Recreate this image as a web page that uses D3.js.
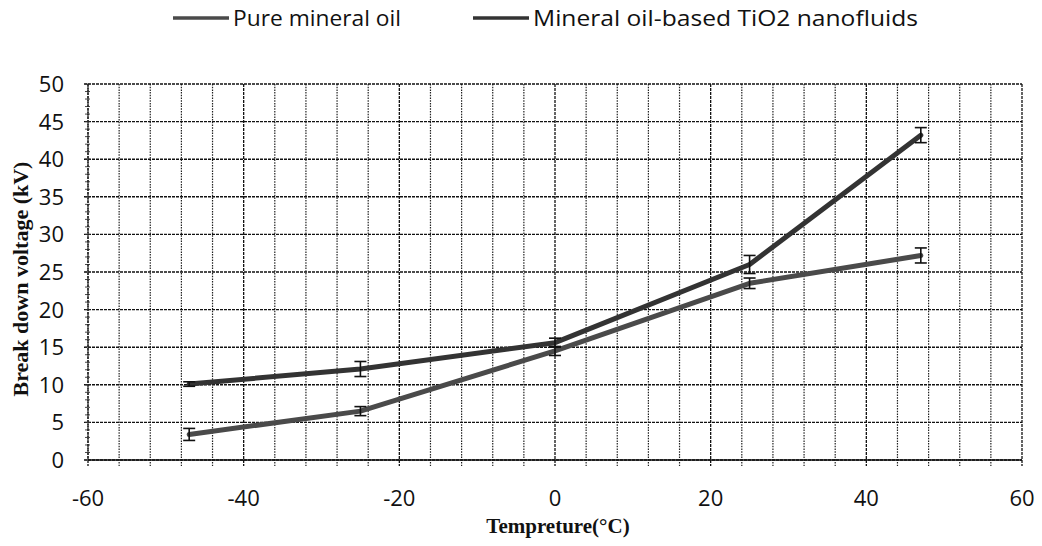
<!DOCTYPE html>
<html><head><meta charset="utf-8">
<script src="https://cdn.jsdelivr.net/npm/d3@7"></script>
<style>body{margin:0;background:#fff}svg{display:block}</style>
</head><body><svg id="c" width="1042" height="546"></svg>
<script>
const temps = [-47, -25, 0, 25, 47];
const pureOil = [3.4, 6.5, 14.5, 23.5, 27.2];
const pureErr = [0.8, 0.6, 0.6, 0.7, 1.0];
const nanoFluid = [10.1, 12.1, 15.6, 26.0, 43.2];
const nanoErr = [0.3, 1.0, 0.6, 1.2, 1.0];
const seriesNames = ["Pure mineral oil", "Mineral oil-based TiO2 nanofluids"];
const xTicks = [-60, -40, -20, 0, 20, 40, 60];
const yTicks = [0, 5, 10, 15, 20, 25, 30, 35, 40, 45, 50];

const svg = d3.select("#c");
const L = 88, R = 1022, T = 84, B = 460;
const x = d3.scaleLinear().domain([-60, 60]).range([L, R]);
const y = d3.scaleLinear().domain([0, 50]).range([B, T]);
const tickFont = "Open Sans, Liberation Sans, sans-serif";

// minor vertical gridlines (every 4)
const minorX = d3.range(-60, 61, 4).filter(v => v % 20 !== 0);
svg.append("g").selectAll("line").data(minorX).join("line")
  .attr("x1", d => x(d)).attr("x2", d => x(d)).attr("y1", T).attr("y2", B + 6)
  .attr("stroke", "#222").attr("stroke-width", 1.2).attr("stroke-dasharray", "1.5,1.2");
// major vertical gridlines
svg.append("g").selectAll("line").data(xTicks).join("line")
  .attr("x1", d => x(d)).attr("x2", d => x(d)).attr("y1", T).attr("y2", B + 6)
  .attr("stroke", "#111").attr("stroke-width", 1.3).attr("stroke-dasharray", "3,1");
// horizontal gridlines
svg.append("g").selectAll("line").data(yTicks).join("line")
  .attr("x1", L - 4).attr("x2", R).attr("y1", d => y(d)).attr("y2", d => y(d))
  .attr("stroke", "#111").attr("stroke-width", 1.4).attr("stroke-dasharray", "3,1");
// y minor ticks
svg.append("g").selectAll("line").data(d3.range(0, 51, 1)).join("line")
  .attr("x1", L - 3).attr("x2", L + 2).attr("y1", d => y(d)).attr("y2", d => y(d))
  .attr("stroke", "#333").attr("stroke-width", 0.9);
// axes lines
svg.append("line").attr("x1", L).attr("x2", L).attr("y1", T).attr("y2", B)
  .attr("stroke", "#222").attr("stroke-width", 1.2).attr("stroke-dasharray", "2,1");
svg.append("line").attr("x1", L).attr("x2", R).attr("y1", B).attr("y2", B)
  .attr("stroke", "#111").attr("stroke-width", 1.6);

// tick labels
svg.append("g").selectAll("text").data(yTicks).join("text")
  .attr("x", 64).attr("y", d => y(d) + 8).attr("text-anchor", "end")
  .attr("font-family", tickFont).attr("font-size", 22).attr("fill", "#111").text(d => d);
svg.append("g").selectAll("text").data(xTicks).join("text")
  .attr("x", d => x(d)).attr("y", 506).attr("text-anchor", "middle")
  .attr("font-family", tickFont).attr("font-size", 22).attr("fill", "#111").text(d => d);

// axis titles
svg.append("text").attr("x", 558).attr("y", 533).attr("text-anchor", "middle")
  .attr("font-family", "Liberation Serif, serif").attr("font-weight", "bold").attr("font-size", 21)
  .attr("fill", "#111").text("Tempreture(°C)");
svg.append("text").attr("transform", "translate(28,279) rotate(-90)").attr("text-anchor", "middle")
  .attr("font-family", "Liberation Serif, serif").attr("font-weight", "bold").attr("font-size", 22)
  .attr("fill", "#111").text("Break down voltage (kV)");

const colors = ["#4a4a4a", "#333"];
const data = [pureOil, nanoFluid];
const errs = [pureErr, nanoErr];
const line = d3.line().x((d, i) => x(temps[i])).y(d => y(d));
data.forEach((vals, s) => {
  svg.append("path").datum(vals).attr("d", line).attr("fill", "none")
    .attr("stroke", colors[s]).attr("stroke-width", 5).attr("stroke-linejoin", "round").attr("stroke-linecap", "round");
  const g = svg.append("g").attr("stroke", "#111").attr("stroke-width", 1.6);
  vals.forEach((v, i) => {
    const e = errs[s][i], cx = x(temps[i]);
    g.append("line").attr("x1", cx).attr("x2", cx).attr("y1", y(v - e)).attr("y2", y(v + e));
    g.append("line").attr("x1", cx - 6).attr("x2", cx + 6).attr("y1", y(v - e)).attr("y2", y(v - e));
    g.append("line").attr("x1", cx - 6).attr("x2", cx + 6).attr("y1", y(v + e)).attr("y2", y(v + e));
  });
});

// legend
const legX = [173, 473];
const legW = [168, 385];
seriesNames.forEach((n, s) => {
  svg.append("line").attr("x1", legX[s]).attr("x2", legX[s] + 56).attr("y1", 18).attr("y2", 18)
    .attr("stroke", colors[s]).attr("stroke-width", 3.5);
  svg.append("text").attr("x", legX[s] + 60).attr("y", 26).attr("font-family", tickFont)
    .attr("font-size", 22).attr("fill", "#111")
    .attr("textLength", legW[s]).attr("lengthAdjust", "spacingAndGlyphs").text(n);
});
</script></body></html>
